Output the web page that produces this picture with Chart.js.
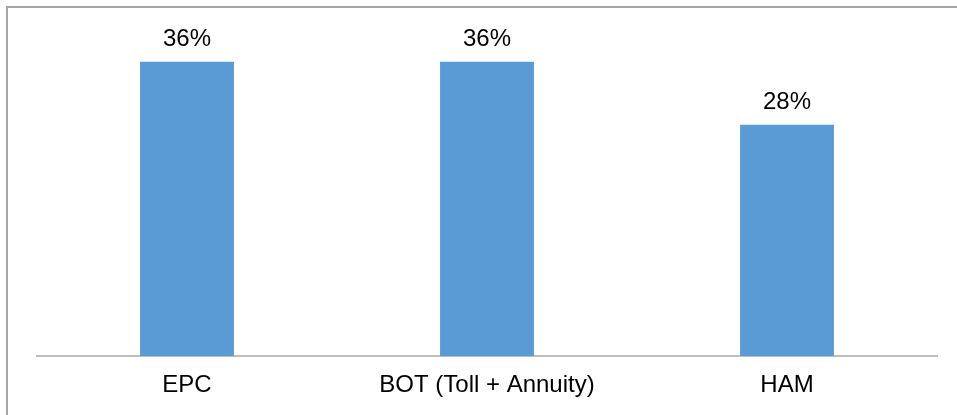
<!DOCTYPE html>
<html>
<head>
<meta charset="utf-8">
<script src="https://cdn.jsdelivr.net/npm/chart.js@4.4.1/dist/chart.umd.min.js"></script>
<style>
    html, body { margin: 0; padding: 0; background: #ffffff; overflow: hidden; }
    #wrap { position: relative; width: 957px; height: 415px; }
    #frame { position: absolute; left: 6px; top: 6px; width: 980px; height: 440px;
             border-left: 2px solid #a6a6a6; border-top: 2px solid #a6a6a6; box-sizing: border-box; }
    #myChart { position: absolute; left: 0; top: 0; }
</style>
</head>
<body>
<div id="wrap">
    <div id="frame"></div>
    <canvas id="myChart"></canvas>
</div>
<script>
// chart values
const categories = ["EPC", "BOT (Toll + Annuity)", "HAM"];
const shares = [36, 36, 28.3];   // percent

const FONT = "'Liberation Sans', Arial, sans-serif";

// draws the % label above each bar
const barLabels = {
    id: "barLabels",
    afterDatasetsDraw(chart) {
        const ctx = chart.ctx;
        const meta = chart.getDatasetMeta(0);
        ctx.save();
        ctx.font = "24px " + FONT;
        ctx.fillStyle = "#000000";
        ctx.textAlign = "center";
        ctx.textBaseline = "alphabetic";
        meta.data.forEach((bar, i) => {
            ctx.fillText(Math.round(shares[i]) + "%", bar.x, bar.y - 16);
        });
        ctx.restore();
    }
};

const config = {
    type: "bar",
    data: {
        labels: categories,
        datasets: [{
            data: shares,
            backgroundColor: "#5b9bd5",
            borderWidth: 0,
            barPercentage: 0.313,
            categoryPercentage: 1.0,
        }],
    },
    options: {
        responsive: true,
        maintainAspectRatio: false,
        animation: false,
        layout: {
            padding: { left: 37, right: 20, top: 29, bottom: 0 },
        },
        plugins: {
            legend: { display: false },
            tooltip: { enabled: false },
        },
        scales: {
            x: {
                grid: { display: false, drawTicks: false },
                border: { display: true, color: "#bfbfbf", width: 2 },
                ticks: {
                    color: "#000000",
                    padding: 15,
                    font: { family: FONT, size: 24 },
                    maxRotation: 0,
                },
            },
            y: {
                display: false,
                min: 0,
                max: 40,
            },
        },
    },
    plugins: [barLabels],
};

const myChart = new Chart(document.getElementById("myChart"), config);
</script>
</body>
</html>
